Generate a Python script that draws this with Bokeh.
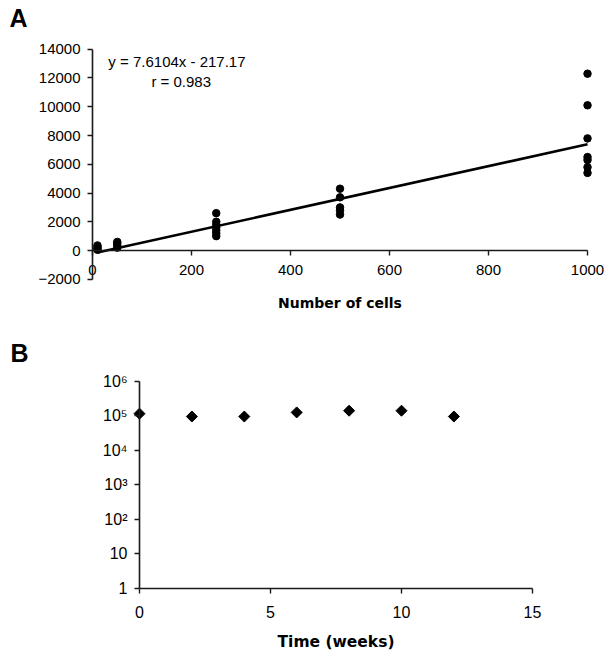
from bokeh.plotting import figure
from bokeh.layouts import column
from bokeh.models import FixedTicker, Label
from bokeh.core.properties import value
from bokeh.embed import file_html
from bokeh.resources import INLINE
import numpy as np

# ---------------- Panel A data ----------------
cells = [10, 10, 10, 10,
         50, 50, 50, 50,
         250, 250, 250, 250, 250, 250, 250,
         500, 500, 500, 500, 500,
         1000, 1000, 1000, 1000, 1000, 1000, 1000]
signal = [50, 150, 250, 350,
          200, 350, 500, 600,
          1000, 1200, 1400, 1600, 1800, 2000, 2600,
          2500, 2800, 3000, 3700, 4300,
          5400, 5800, 6300, 6500, 7800, 10100, 12300]
fit_slope = 7.6104
fit_intercept = -217.17
fit_r = 0.983
a_xticks = [0, 200, 400, 600, 800, 1000]
a_yticks = [-2000, 0, 2000, 4000, 6000, 8000, 10000, 12000, 14000]

# ---------------- Panel B data ----------------
weeks = [0, 2, 4, 6, 8, 10, 12]
counts = [1.15e5, 0.95e5, 0.95e5, 1.25e5, 1.4e5, 1.4e5, 0.95e5]
b_xticks = [0, 5, 10, 15]
b_yticks = [1, 10, 100, 1000, 10000, 100000, 1000000]
b_ylabels = ["1", "10", "10\u00b2", "10\u00b3", "10\u2074", "10\u2075", "10\u2076"]

FONT = "Liberation Sans"
BOLD = "DejaVu Sans"
INK = "#1a1a1a"
W = 604


def style_axis(ax, size="15px"):
    ax.axis_line_color = INK
    ax.axis_line_width = 1.6
    ax.major_tick_line_color = INK
    ax.major_tick_line_width = 1.4
    ax.major_tick_in = 0
    ax.major_tick_out = 5
    ax.minor_tick_line_color = None
    ax.major_label_text_font = FONT
    ax.major_label_text_font_size = size
    ax.major_label_text_color = "black"
    ax.axis_label_text_font = BOLD
    ax.axis_label_text_font_style = "bold"
    ax.axis_label_text_color = "black"


# ---------------- Panel A ----------------
pa = figure(width=W, height=318,
            x_range=(-185.9, 1034.3), y_range=(-4730, 17391),
            output_backend="svg", toolbar_location=None,
            min_border=0, min_border_left=0, min_border_right=0,
            min_border_top=0, min_border_bottom=0)
pa.grid.visible = False
pa.outline_line_color = None
pa.xaxis.fixed_location = 0
pa.yaxis.fixed_location = 0
pa.xaxis.bounds = (0, 1000)
pa.yaxis.bounds = (-2000, 14000)
pa.xaxis.ticker = FixedTicker(ticks=a_xticks)
pa.yaxis.ticker = FixedTicker(ticks=a_yticks)
pa.xaxis.axis_label = "Number of cells"
pa.xaxis.axis_label_text_font_size = "14px"
pa.xaxis.axis_label_standoff = 17
pa.xaxis.major_label_standoff = 9
pa.yaxis.major_label_standoff = 7
style_axis(pa.xaxis)
style_axis(pa.yaxis)

pa.scatter(cells, signal, size=7.5, color="black")
fx = np.array([min(cells), max(cells)], dtype=float)
pa.line(fx, fit_slope * fx + fit_intercept, line_color="black", line_width=2.6)

eq_text = [f"y = {fit_slope}x - {abs(fit_intercept)}", f"r = {fit_r}"]
pa.text(x=[32, 119], y=[13148, 11791], text=eq_text,
        text_font=value(FONT), text_font_size="15px", text_color="black",
        text_baseline="middle", text_align="left")
pa.add_layout(Label(x=-167.7, y=16139, text="A", text_font=FONT,
                    text_font_size="25px", text_font_style="bold",
                    text_color="black", text_baseline="alphabetic"))

# ---------------- Panel B ----------------
pb = figure(width=W, height=335,
            x_range=(-5.305, 17.748), y_range=(10 ** -1.881, 10 ** 7.815),
            y_axis_type="log",
            output_backend="svg", toolbar_location=None,
            min_border=0, min_border_left=0, min_border_right=0,
            min_border_top=0, min_border_bottom=0)
pb.grid.visible = False
pb.outline_line_color = None
pb.xaxis.fixed_location = 1
pb.yaxis.fixed_location = 0
pb.xaxis.bounds = (0, 15)
pb.yaxis.bounds = (1, 1e6)
pb.xaxis.ticker = FixedTicker(ticks=b_xticks)
pb.yaxis.ticker = FixedTicker(ticks=b_yticks)
pb.yaxis.major_label_overrides = {t: l for t, l in zip(b_yticks, b_ylabels)}
pb.xaxis.axis_label = "Time (weeks)"
pb.xaxis.axis_label_text_font_size = "15.5px"
pb.xaxis.axis_label_standoff = 12
pb.xaxis.major_label_standoff = 12
pb.yaxis.major_label_standoff = 7
style_axis(pb.xaxis, "16px")
style_axis(pb.yaxis, "16px")

pb.scatter(weeks, counts, marker="square", angle=np.pi / 4, size=7.8,
           color="black")
pb.add_layout(Label(x=-4.924, y=10 ** 6.802, text="B", text_font=FONT,
                    text_font_size="25px", text_font_style="bold",
                    text_color="black", text_baseline="alphabetic"))

layout = column(pa, pb, spacing=0)
open("out.html", "w").write(file_html(layout, INLINE))
